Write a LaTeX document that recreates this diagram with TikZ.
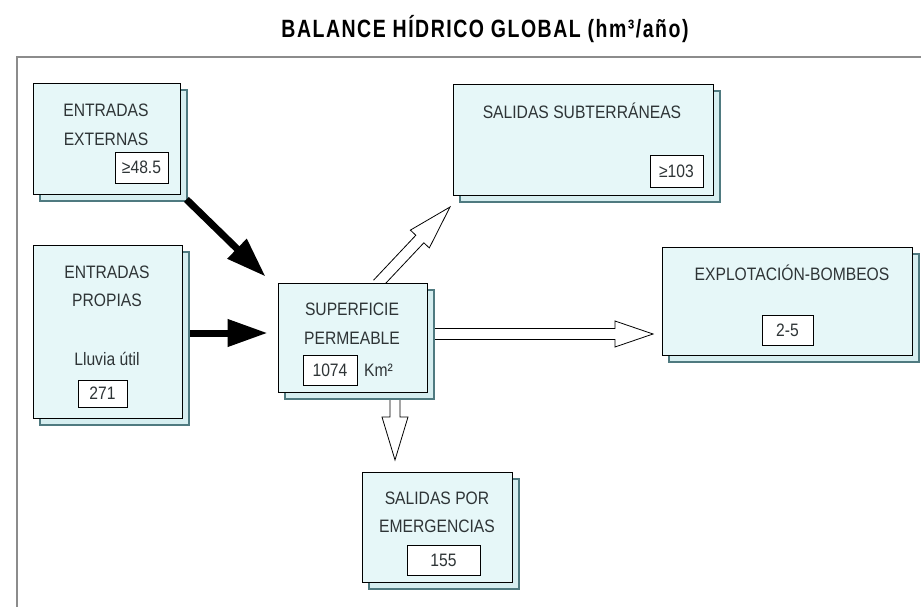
\documentclass[tikz,border=0pt]{standalone}
\usepackage{fontspec}
\setmainfont{Liberation Sans}[FakeStretch=0.87]
\newfontfamily\titlefont{Liberation Sans}[FakeStretch=0.78,LetterSpace=6]
\usetikzlibrary{arrows.meta,calc,shadows}
\definecolor{boxfill}{HTML}{E6F7F8}
\definecolor{shadfill}{HTML}{D6EEF0}
\definecolor{shadline}{HTML}{4F7A80}
\definecolor{txt}{HTML}{2E3436}
\definecolor{framegray}{HTML}{8C8C8C}
\tikzset{
  panel/.style={draw=black, line width=0.8pt, fill=boxfill, inner sep=0pt,
    copy shadow={shadow xshift=7pt, shadow yshift=-7pt, fill=shadfill, draw=shadline, line width=1.6pt}},
  lbl/.style={text=txt, font=\fontsize{18}{20}\selectfont, inner sep=0pt},
  valbox/.style={draw=black, line width=0.9pt, fill=white, inner sep=0pt,
    text=txt, font=\fontsize{18}{20}\selectfont},
  thickarr/.style={line width=7pt, -{Triangle[length=40pt,width=26pt]}},
  hollow/.style={fill=white, draw=black, line width=0.8pt, line join=miter}
}
\newcommand\hollowarr[5]{%
  \coordinate (hA) at ($(#2)!#5!(#1)$);
  \filldraw[hollow]
    ($(#1)!#3!90:(#2)$) -- ($(hA)!#3!90:(#2)$) -- ($(hA)!#4!90:(#2)$) -- (#2)
    -- ($(hA)!#4!-90:(#2)$) -- ($(hA)!#3!-90:(#2)$) -- ($(#1)!#3!-90:(#2)$);
}
\begin{document}
\begin{tikzpicture}[x=1pt,y=-1pt]
\useasboundingbox (0,0) rectangle (921,607);
\fill[white] (0,0) rectangle (921,607);

% outer frame
\draw[framegray, line width=2pt] (921,57) -- (17,57) -- (17,607);

% title
\node[font=\titlefont\bfseries\fontsize{25}{28}\selectfont, inner sep=0pt, anchor=base] (title) at (485,38) {BALANCE HÍDRICO GLOBAL (hm³/año)};

% coordinates for the box geometry
\coordinate (extc) at (106.5,138.5);
\coordinate (propc) at (107.5,331.5);
\coordinate (supc) at (352.5,337.5);
\coordinate (subc) at (583,139.5);
\coordinate (expc) at (787,301);
\coordinate (emec) at (437,527);

% hollow arrows (drawn first, boxes overlap their bases)
\coordinate (s1) at (377.5,284);
\coordinate (e1) at (450,207);
\hollowarr{s1}{e1}{5.5pt}{13pt}{44pt}
\coordinate (s2) at (432,334);
\coordinate (e2) at (653,334);
\hollowarr{s2}{e2}{5.5pt}{13pt}{38pt}
\coordinate (s3) at (395,397);
\coordinate (e3) at (395,460);
\hollowarr{s3}{e3}{5pt}{13pt}{43pt}

% boxes
\node[panel, minimum width=147pt, minimum height=111pt] (ext) at (extc) {};
\node[panel, minimum width=149pt, minimum height=173pt] (prop) at (propc) {};
\node[panel, minimum width=149pt, minimum height=109pt] (sup) at (supc) {};
\node[panel, minimum width=260pt, minimum height=111pt] (sub) at (subc) {};
\node[panel, minimum width=250pt, minimum height=108pt] (exp) at (expc) {};
\node[panel, minimum width=150pt, minimum height=110pt] (eme) at (emec) {};

% labels
\node[lbl] (ext1) at (106,110) {ENTRADAS};
\node[lbl] (ext2) at (106,139) {EXTERNAS};
\node[valbox, minimum width=53pt, minimum height=31pt] (extv) at (141.5,167.5) {≥48.5};

\node[lbl] (prop1) at (107,272) {ENTRADAS};
\node[lbl] (prop2) at (107,300) {PROPIAS};
\node[lbl, anchor=base] (prop3) at (107,365) {Lluvia útil};
\node[valbox, minimum width=49pt, minimum height=27pt] (propv) at (102.5,393.5) {271};

\node[lbl] (sup1) at (352,309) {SUPERFICIE};
\node[lbl] (sup2) at (352,338) {PERMEABLE};
\node[valbox, minimum width=54pt, minimum height=30pt] (supv) at (330,370) {1074};
\node[lbl, anchor=west] (supu) at (364,370) {Km²};

\node[lbl] (sub1) at (582,111) {SALIDAS SUBTERRÁNEAS};
\node[valbox, minimum width=53pt, minimum height=32pt] (subv) at (676.5,171) {≥103};

\node[lbl] (exp1) at (792,273) {EXPLOTACIÓN-BOMBEOS};
\node[valbox, minimum width=51pt, minimum height=30pt] (expv) at (787.5,330) {2-5};

\node[lbl] (eme1) at (437,498) {SALIDAS POR};
\node[lbl] (eme2) at (437,526) {EMERGENCIAS};
\node[valbox, minimum width=73pt, minimum height=30pt] (emev) at (443.5,560) {155};

% thick black arrows
\draw[thickarr] ([xshift=6pt,yshift=-5pt]ext.south east) -- ([xshift=-12pt,yshift=6pt]sup.north west);
\draw[thickarr] ($(prop.east)+(8,1.5)$) -- ($(sup.west)+(-10,-4.5)$);
\end{tikzpicture}
\end{document}
